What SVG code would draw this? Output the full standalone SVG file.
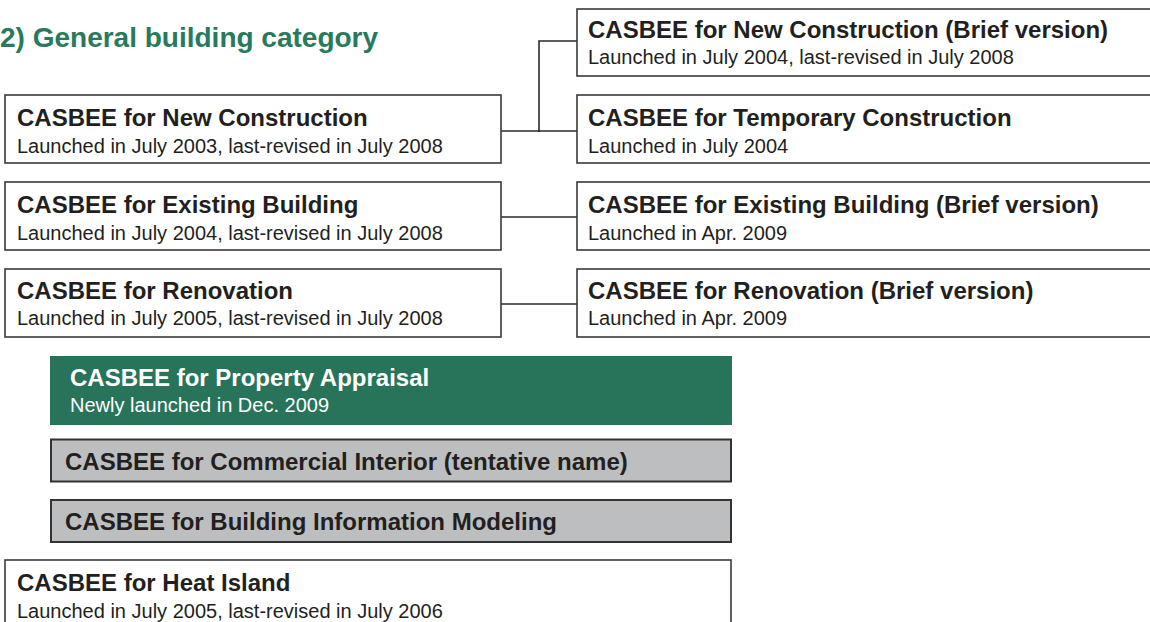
<svg xmlns="http://www.w3.org/2000/svg" width="1150" height="622" viewBox="0 0 1150 622">
  <style>
    .box { fill: #ffffff; stroke: #3a3a3a; stroke-width: 1.6; }
    .grey { fill: #bdbec0; stroke: #333333; stroke-width: 2; }
    .green { fill: #27745a; }
    .t { font-family: "Liberation Sans", Arial, sans-serif; font-weight: bold; font-size: 24px; fill: #231f20; }
    .s { font-family: "Liberation Sans", Arial, sans-serif; font-size: 20px; fill: #231f20; }
    .w { fill: #ffffff; }
    .head { font-family: "Liberation Sans", Arial, sans-serif; font-weight: bold; font-size: 28px; fill: #277a5b; }
    .link { fill: none; stroke: #2a2a2a; stroke-width: 1.6; }
  </style>

  <text class="head" x="0" y="47">2) General building category</text>

  <!-- connectors between full and brief versions -->
  <g id="connectors">
    <path class="link" d="M501 131 H577"/>
    <path class="link" d="M539 132 V41 H577"/>
    <path class="link" d="M501 217 H577"/>
    <path class="link" d="M501 304 H577"/>
  </g>

  <!-- left column -->
  <g id="new-construction">
    <rect class="box" x="5" y="95" width="496" height="68"/>
    <text class="t" x="17" y="126">CASBEE for New Construction</text>
    <text class="s" x="17" y="153">Launched in July 2003, last-revised in July 2008</text>
  </g>
  <g id="existing-building">
    <rect class="box" x="5" y="182" width="496" height="68"/>
    <text class="t" x="17" y="213">CASBEE for Existing Building</text>
    <text class="s" x="17" y="240">Launched in July 2004, last-revised in July 2008</text>
  </g>
  <g id="renovation">
    <rect class="box" x="5" y="269" width="496" height="68"/>
    <text class="t" x="17" y="299">CASBEE for Renovation</text>
    <text class="s" x="17" y="325">Launched in July 2005, last-revised in July 2008</text>
  </g>

  <!-- right column (boxes run past the right edge) -->
  <g id="new-construction-brief">
    <rect class="box" x="577" y="9" width="600" height="67"/>
    <text class="t" x="588" y="38">CASBEE for New Construction (Brief version)</text>
    <text class="s" x="588" y="64">Launched in July 2004, last-revised in July 2008</text>
  </g>
  <g id="temporary-construction">
    <rect class="box" x="577" y="95" width="600" height="68"/>
    <text class="t" x="588" y="126">CASBEE for Temporary Construction</text>
    <text class="s" x="588" y="153">Launched in July 2004</text>
  </g>
  <g id="existing-building-brief">
    <rect class="box" x="577" y="182" width="600" height="68"/>
    <text class="t" x="588" y="213">CASBEE for Existing Building (Brief version)</text>
    <text class="s" x="588" y="240">Launched in Apr. 2009</text>
  </g>
  <g id="renovation-brief">
    <rect class="box" x="577" y="269" width="600" height="68"/>
    <text class="t" x="588" y="299">CASBEE for Renovation (Brief version)</text>
    <text class="s" x="588" y="325">Launched in Apr. 2009</text>
  </g>

  <!-- lower stack -->
  <g id="property-appraisal">
    <rect class="green" x="50" y="356" width="682" height="69"/>
    <text class="t w" x="70" y="386">CASBEE for Property Appraisal</text>
    <text class="s w" x="70" y="412">Newly launched in Dec. 2009</text>
  </g>
  <g id="commercial-interior">
    <rect class="grey" x="51" y="439.5" width="680" height="42"/>
    <text class="t" x="65" y="470">CASBEE for Commercial Interior (tentative name)</text>
  </g>
  <g id="bim">
    <rect class="grey" x="51" y="500" width="680" height="42"/>
    <text class="t" x="65" y="530">CASBEE for Building Information Modeling</text>
  </g>
  <g id="heat-island">
    <rect class="box" x="5" y="560" width="726" height="80"/>
    <text class="t" x="17" y="591">CASBEE for Heat Island</text>
    <text class="s" x="17" y="618">Launched in July 2005, last-revised in July 2006</text>
  </g>
</svg>
